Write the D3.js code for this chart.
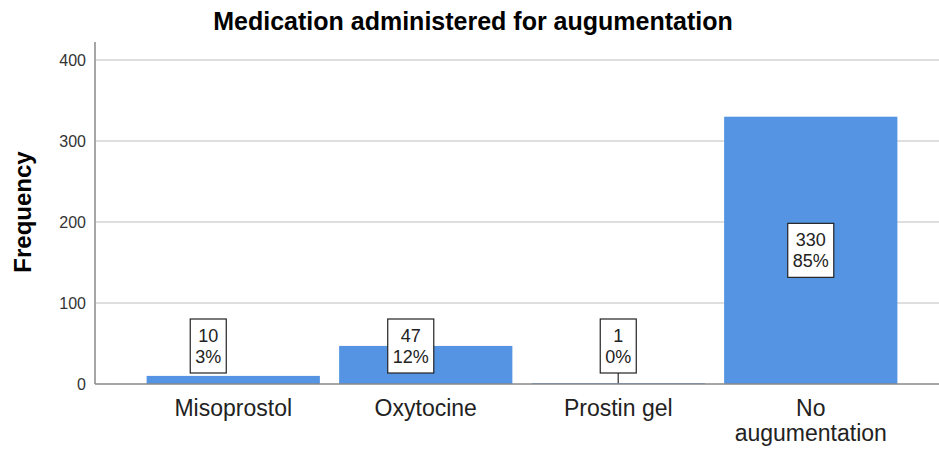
<!DOCTYPE html>
<html>
<head>
<meta charset="utf-8">
<script src="https://cdn.jsdelivr.net/npm/d3@7"></script>
<style>
  body { margin: 0; background: #fff; }
  text { font-family: "Liberation Sans", Arial, sans-serif; }
</style>
</head>
<body>
<svg class="Chart"></svg>
<script>
/* Data */
const categories = ['Misoprostol', 'Oxytocine', 'Prostin gel', 'No augumentation'];
const counts = [10, 47, 1, 330];
const percents = ['3%', '12%', '0%', '85%'];
const yTicks = [0, 100, 200, 300, 400];

const width = 939;
const height = 450;
const svg = d3.select('.Chart')
  .attr('width', width)
  .attr('height', height);

const x = d3.scaleBand()
  .domain(categories)
  .range([137, 907])
  .paddingInner(0.1)
  .paddingOuter(0.05);

const y = d3.scaleLinear()
  .domain([0, 400])
  .range([384, 60]);

/* Title */
svg.append('text')
  .attr('x', 473)
  .attr('y', 30)
  .attr('text-anchor', 'middle')
  .style('font-weight', 'bold')
  .style('font-size', '25px')
  .text('Medication administered for augumentation');

/* Y label */
svg.append('text')
  .attr('transform', 'translate(31,212) rotate(-90)')
  .attr('text-anchor', 'middle')
  .style('font-weight', 'bold')
  .style('font-size', '24px')
  .text('Frequency');

/* Gridlines */
svg.append('g')
  .selectAll('line')
  .data(yTicks.filter(d => d > 0))
  .enter().append('line')
  .attr('x1', 96)
  .attr('x2', width)
  .attr('y1', d => y(d))
  .attr('y2', d => y(d))
  .attr('stroke', '#d4d4d4')
  .attr('stroke-width', 1.5);

/* Y axis */
const yAxis = svg.append('g')
  .attr('transform', 'translate(95,0)')
  .call(d3.axisLeft(y).tickValues(yTicks).tickSize(0).tickPadding(9));
yAxis.select('.domain').remove();
yAxis.selectAll('text')
  .style('font-size', '16px')
  .style('font-family', '"Liberation Sans", Arial, sans-serif')
  .attr('fill', '#333');

svg.append('line')
  .attr('x1', 95).attr('x2', 95)
  .attr('y1', 42).attr('y2', y(0))
  .attr('stroke', '#888')
  .attr('stroke-width', 1.5);

/* Bars */
svg.append('g')
  .selectAll('rect')
  .data(categories)
  .enter().append('rect')
  .attr('x', d => x(d))
  .attr('width', x.bandwidth())
  .attr('y', (d, i) => y(counts[i]))
  .attr('height', (d, i) => y(0) - y(counts[i]))
  .attr('fill', '#5594e2');

/* Baseline */
svg.append('line')
  .attr('x1', 95).attr('x2', width)
  .attr('y1', y(0)).attr('y2', y(0))
  .attr('stroke', '#888')
  .attr('stroke-width', 1.5);

/* Category labels, long one wrapped on two lines */
svg.append('g')
  .selectAll('g')
  .data(categories)
  .enter().append('g')
  .each(function (d) {
    const words = d === 'No augumentation' ? ['No', 'augumentation'] : [d];
    d3.select(this).selectAll('text')
      .data(words)
      .enter().append('text')
      .attr('x', x(d) + x.bandwidth() / 2)
      .attr('y', (w, i) => 416 + i * 25)
      .attr('text-anchor', 'middle')
      .style('font-size', '23px')
      .attr('fill', '#222')
      .text(w => w);
  });

/* Value labels (SPSS nudges the low ones left of centre) */
const nudge = [-25, -15, 0, 0];

const labels = svg.append('g')
  .selectAll('g')
  .data(categories)
  .enter().append('g');

labels.each(function (d, i) {
  const g = d3.select(this);
  const cx = x(d) + x.bandwidth() / 2 + nudge[i];
  const mid = (y(0) + y(counts[i])) / 2;
  const cy = Math.min(mid, 346);

  const box = g.append('rect')
    .attr('fill', '#fff')
    .attr('stroke', '#222')
    .attr('stroke-width', 1.2);

  const t = g.append('text')
    .attr('text-anchor', 'middle')
    .style('font-size', '18px')
    .attr('fill', '#222');
  t.append('tspan').attr('x', cx).attr('y', cy - 4).text(counts[i]);
  t.append('tspan').attr('x', cx).attr('y', cy + 17).text(percents[i]);

  const bw = t.node().getBBox().width + 10;
  box.attr('x', cx - bw / 2)
    .attr('width', bw)
    .attr('y', cy - 27)
    .attr('height', 54);

  if (cy + 27 < y(counts[i]) - 4) {
    g.insert('line', 'rect')
      .attr('x1', cx).attr('x2', cx)
      .attr('y1', cy + 27).attr('y2', y(counts[i]))
      .attr('stroke', '#555')
      .attr('stroke-width', 1.5);
  }
});
</script>
</body>
</html>
